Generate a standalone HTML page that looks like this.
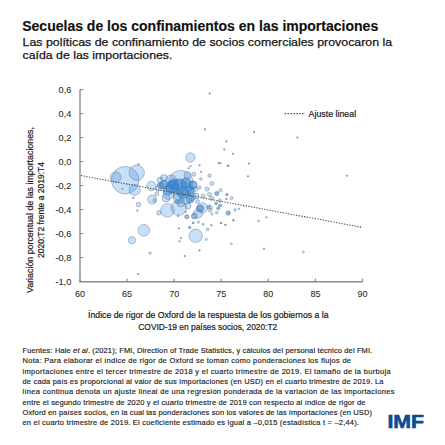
<!DOCTYPE html><html><head><meta charset="utf-8"><style>html,body{margin:0;padding:0;background:#fff;width:445px;height:445px;overflow:hidden}svg{display:block}text{font-family:"Liberation Sans",sans-serif}</style></head><body>
<svg width="445" height="445" viewBox="0 0 445 445">
<rect width="445" height="445" fill="#fff"/>
<text x="22.2" y="31.2" font-size="14.0" font-weight="bold" fill="#111" text-anchor="start" textLength="356" lengthAdjust="spacingAndGlyphs" stroke="#111" stroke-width="0.15">Secuelas de los confinamientos en las importaciones</text>
<text x="22.6" y="46.3" font-size="11.6" font-weight="normal" fill="#151515" text-anchor="start" textLength="369.5" lengthAdjust="spacingAndGlyphs" stroke="#151515" stroke-width="0.25">Las políticas de confinamiento de socios comerciales provocaron la</text>
<text x="22.6" y="59.0" font-size="11.6" font-weight="normal" fill="#151515" text-anchor="start" textLength="149.8" lengthAdjust="spacingAndGlyphs" stroke="#151515" stroke-width="0.25">caída de las importaciones.</text>
<line x1="80.0" y1="89.7" x2="80.0" y2="281.7" stroke="#8c8c8c" stroke-width="1.4"/>
<line x1="79.3" y1="281.7" x2="362.9" y2="281.7" stroke="#8c8c8c" stroke-width="1.4"/>
<line x1="80.0" y1="89.63" x2="83.2" y2="89.63" stroke="#8c8c8c" stroke-width="1.2"/>
<text x="71.3" y="92.93" font-size="9.2" font-weight="normal" fill="#2a2a2a" text-anchor="end" stroke="#2a2a2a" stroke-width="0.08">0,6</text>
<line x1="80.0" y1="113.62" x2="83.2" y2="113.62" stroke="#8c8c8c" stroke-width="1.2"/>
<text x="71.3" y="116.92" font-size="9.2" font-weight="normal" fill="#2a2a2a" text-anchor="end" stroke="#2a2a2a" stroke-width="0.08">0,4</text>
<line x1="80.0" y1="137.61" x2="83.2" y2="137.61" stroke="#8c8c8c" stroke-width="1.2"/>
<text x="71.3" y="140.91000000000003" font-size="9.2" font-weight="normal" fill="#2a2a2a" text-anchor="end" stroke="#2a2a2a" stroke-width="0.08">0,2</text>
<line x1="80.0" y1="161.60" x2="83.2" y2="161.60" stroke="#8c8c8c" stroke-width="1.2"/>
<text x="71.3" y="164.9" font-size="9.2" font-weight="normal" fill="#2a2a2a" text-anchor="end" stroke="#2a2a2a" stroke-width="0.08">0,0</text>
<line x1="80.0" y1="185.59" x2="83.2" y2="185.59" stroke="#8c8c8c" stroke-width="1.2"/>
<text x="71.3" y="188.89000000000001" font-size="9.2" font-weight="normal" fill="#2a2a2a" text-anchor="end" stroke="#2a2a2a" stroke-width="0.08">-0,2</text>
<line x1="80.0" y1="209.58" x2="83.2" y2="209.58" stroke="#8c8c8c" stroke-width="1.2"/>
<text x="71.3" y="212.88" font-size="9.2" font-weight="normal" fill="#2a2a2a" text-anchor="end" stroke="#2a2a2a" stroke-width="0.08">-0,4</text>
<line x1="80.0" y1="233.57" x2="83.2" y2="233.57" stroke="#8c8c8c" stroke-width="1.2"/>
<text x="71.3" y="236.87" font-size="9.2" font-weight="normal" fill="#2a2a2a" text-anchor="end" stroke="#2a2a2a" stroke-width="0.08">-0,6</text>
<line x1="80.0" y1="257.56" x2="83.2" y2="257.56" stroke="#8c8c8c" stroke-width="1.2"/>
<text x="71.3" y="260.86" font-size="9.2" font-weight="normal" fill="#2a2a2a" text-anchor="end" stroke="#2a2a2a" stroke-width="0.08">-0,8</text>
<line x1="80.0" y1="281.55" x2="83.2" y2="281.55" stroke="#8c8c8c" stroke-width="1.2"/>
<text x="71.3" y="284.84999999999997" font-size="9.2" font-weight="normal" fill="#2a2a2a" text-anchor="end" stroke="#2a2a2a" stroke-width="0.08">-1,0</text>
<line x1="80.00" y1="281.7" x2="80.00" y2="278.7" stroke="#8c8c8c" stroke-width="1.2"/>
<text x="80.0" y="297.0" font-size="9.0" font-weight="normal" fill="#2a2a2a" text-anchor="middle" stroke="#2a2a2a" stroke-width="0.08">60</text>
<line x1="127.08" y1="281.7" x2="127.08" y2="278.7" stroke="#8c8c8c" stroke-width="1.2"/>
<text x="127.08333333333334" y="297.0" font-size="9.0" font-weight="normal" fill="#2a2a2a" text-anchor="middle" stroke="#2a2a2a" stroke-width="0.08">65</text>
<line x1="174.17" y1="281.7" x2="174.17" y2="278.7" stroke="#8c8c8c" stroke-width="1.2"/>
<text x="174.16666666666669" y="297.0" font-size="9.0" font-weight="normal" fill="#2a2a2a" text-anchor="middle" stroke="#2a2a2a" stroke-width="0.08">70</text>
<line x1="221.25" y1="281.7" x2="221.25" y2="278.7" stroke="#8c8c8c" stroke-width="1.2"/>
<text x="221.25" y="297.0" font-size="9.0" font-weight="normal" fill="#2a2a2a" text-anchor="middle" stroke="#2a2a2a" stroke-width="0.08">75</text>
<line x1="268.33" y1="281.7" x2="268.33" y2="278.7" stroke="#8c8c8c" stroke-width="1.2"/>
<text x="268.33333333333337" y="297.0" font-size="9.0" font-weight="normal" fill="#2a2a2a" text-anchor="middle" stroke="#2a2a2a" stroke-width="0.08">80</text>
<line x1="315.42" y1="281.7" x2="315.42" y2="278.7" stroke="#8c8c8c" stroke-width="1.2"/>
<text x="315.41666666666663" y="297.0" font-size="9.0" font-weight="normal" fill="#2a2a2a" text-anchor="middle" stroke="#2a2a2a" stroke-width="0.08">85</text>
<line x1="362.50" y1="281.7" x2="362.50" y2="278.7" stroke="#8c8c8c" stroke-width="1.2"/>
<text x="362.5" y="297.0" font-size="9.0" font-weight="normal" fill="#2a2a2a" text-anchor="middle" stroke="#2a2a2a" stroke-width="0.08">90</text>
<text x="208.3" y="317.5" font-size="8.6" font-weight="normal" fill="#1a1a1a" text-anchor="middle" textLength="240.5" lengthAdjust="spacingAndGlyphs" stroke="#1a1a1a" stroke-width="0.2">Índice de rigor de Oxford de la respuesta de los gobiernos a la</text>
<text x="207.8" y="329.8" font-size="8.6" font-weight="normal" fill="#1a1a1a" text-anchor="middle" textLength="139.0" lengthAdjust="spacingAndGlyphs" stroke="#1a1a1a" stroke-width="0.2">COVID-19 en países socios, 2020:T2</text>
<g transform="translate(33.3,210) rotate(-90)">
<text x="0" y="0" font-size="8.7" font-weight="normal" fill="#1a1a1a" text-anchor="middle" textLength="166" lengthAdjust="spacingAndGlyphs" stroke="#1a1a1a" stroke-width="0.2">Variación porcentual de las importaciones,</text>
<text x="0" y="10.4" font-size="8.7" font-weight="normal" fill="#1a1a1a" text-anchor="middle" textLength="96" lengthAdjust="spacingAndGlyphs" stroke="#1a1a1a" stroke-width="0.2">2020:T2 frente a 2019:T4</text>
</g>
<circle cx="125.2" cy="180.2" r="13.8" fill="rgba(70,150,230,0.3)" stroke="rgba(95,120,145,0.6)" stroke-width="0.75"/>
<circle cx="115.7" cy="177.1" r="5.3" fill="rgba(70,150,230,0.3)" stroke="rgba(95,120,145,0.6)" stroke-width="0.75"/>
<circle cx="136.7" cy="172.7" r="7.7" fill="rgba(70,150,230,0.3)" stroke="rgba(95,120,145,0.6)" stroke-width="0.75"/>
<circle cx="134.7" cy="189.9" r="5.5" fill="rgba(70,150,230,0.3)" stroke="rgba(95,120,145,0.6)" stroke-width="0.75"/>
<circle cx="138.5" cy="204.6" r="2.29" fill="rgba(70,150,230,0.3)" stroke="rgba(95,120,145,0.6)" stroke-width="0.75"/>
<circle cx="131.9" cy="240.2" r="3.6" fill="rgba(70,150,230,0.3)" stroke="rgba(95,120,145,0.6)" stroke-width="0.75"/>
<circle cx="143.8" cy="230.3" r="5.8" fill="rgba(70,150,230,0.3)" stroke="rgba(95,120,145,0.6)" stroke-width="0.75"/>
<circle cx="154.5" cy="200.4" r="1.7" fill="rgba(70,150,230,0.3)" stroke="rgba(95,120,145,0.6)" stroke-width="0.75"/>
<circle cx="167.5" cy="210.3" r="6.8" fill="rgba(70,150,230,0.3)" stroke="rgba(95,120,145,0.6)" stroke-width="0.75"/>
<circle cx="178.8" cy="207.8" r="7.6" fill="rgba(70,150,230,0.3)" stroke="rgba(95,120,145,0.6)" stroke-width="0.75"/>
<circle cx="159.0" cy="212.8" r="2.29" fill="rgba(70,150,230,0.3)" stroke="rgba(95,120,145,0.6)" stroke-width="0.75"/>
<circle cx="195.7" cy="235.8" r="6.7" fill="rgba(70,150,230,0.3)" stroke="rgba(95,120,145,0.6)" stroke-width="0.75"/>
<circle cx="189.6" cy="227.4" r="1.1" fill="rgba(70,150,230,0.3)" stroke="rgba(95,120,145,0.6)" stroke-width="0.75"/>
<circle cx="180.8" cy="237.9" r="0.94" fill="rgba(70,150,230,0.3)" stroke="rgba(95,120,145,0.6)" stroke-width="0.75"/>
<circle cx="150.2" cy="253.2" r="1.1" fill="rgba(70,150,230,0.3)" stroke="rgba(95,120,145,0.6)" stroke-width="0.75"/>
<circle cx="190.4" cy="157.5" r="4.7" fill="rgba(70,150,230,0.3)" stroke="rgba(95,120,145,0.6)" stroke-width="0.75"/>
<circle cx="180.8" cy="182.8" r="12.4" fill="rgba(70,150,230,0.3)" stroke="rgba(95,120,145,0.6)" stroke-width="0.75"/>
<circle cx="151.3" cy="186.0" r="4.7" fill="rgba(70,150,230,0.3)" stroke="rgba(95,120,145,0.6)" stroke-width="0.75"/>
<circle cx="152.1" cy="199.5" r="4.5" fill="rgba(70,150,230,0.3)" stroke="rgba(95,120,145,0.6)" stroke-width="0.75"/>
<circle cx="187.5" cy="175.0" r="3.5" fill="rgba(70,150,230,0.3)" stroke="rgba(95,120,145,0.6)" stroke-width="0.75"/>
<circle cx="163.9" cy="178.0" r="3.5" fill="rgba(70,150,230,0.3)" stroke="rgba(95,120,145,0.6)" stroke-width="0.75"/>
<circle cx="163.9" cy="184.6" r="4.2" fill="rgba(45,130,215,0.55)" stroke="rgba(60,110,160,0.7)" stroke-width="0.8"/>
<circle cx="171.0" cy="180.5" r="5.5" fill="rgba(70,150,230,0.3)" stroke="rgba(95,120,145,0.6)" stroke-width="0.75"/>
<circle cx="179.6" cy="186.0" r="7.0" fill="rgba(45,130,215,0.55)" stroke="rgba(60,110,160,0.7)" stroke-width="0.8"/>
<circle cx="168.0" cy="190.0" r="5.0" fill="rgba(45,130,215,0.55)" stroke="rgba(60,110,160,0.7)" stroke-width="0.8"/>
<circle cx="183.0" cy="192.5" r="6.0" fill="rgba(45,130,215,0.55)" stroke="rgba(60,110,160,0.7)" stroke-width="0.8"/>
<circle cx="174.0" cy="184.0" r="5.0" fill="rgba(45,130,215,0.55)" stroke="rgba(60,110,160,0.7)" stroke-width="0.8"/>
<circle cx="190.0" cy="199.0" r="4.0" fill="rgba(45,130,215,0.55)" stroke="rgba(60,110,160,0.7)" stroke-width="0.8"/>
<circle cx="160.5" cy="185.5" r="3.0" fill="rgba(45,130,215,0.55)" stroke="rgba(60,110,160,0.7)" stroke-width="0.8"/>
<circle cx="172.0" cy="187.0" r="6.0" fill="rgba(45,130,215,0.55)" stroke="rgba(60,110,160,0.7)" stroke-width="0.8"/>
<circle cx="186.0" cy="183.0" r="5.0" fill="rgba(45,130,215,0.55)" stroke="rgba(60,110,160,0.7)" stroke-width="0.8"/>
<circle cx="178.0" cy="195.0" r="5.0" fill="rgba(70,150,230,0.3)" stroke="rgba(95,120,145,0.6)" stroke-width="0.75"/>
<circle cx="190.0" cy="190.0" r="4.0" fill="rgba(45,130,215,0.55)" stroke="rgba(60,110,160,0.7)" stroke-width="0.8"/>
<circle cx="166.0" cy="198.0" r="4.0" fill="rgba(70,150,230,0.3)" stroke="rgba(95,120,145,0.6)" stroke-width="0.75"/>
<circle cx="181.0" cy="203.0" r="4.0" fill="rgba(70,150,230,0.3)" stroke="rgba(95,120,145,0.6)" stroke-width="0.75"/>
<circle cx="160.0" cy="180.0" r="3.0" fill="rgba(70,150,230,0.3)" stroke="rgba(95,120,145,0.6)" stroke-width="0.75"/>
<circle cx="196.0" cy="196.0" r="3.0" fill="rgba(70,150,230,0.3)" stroke="rgba(95,120,145,0.6)" stroke-width="0.75"/>
<circle cx="188.0" cy="206.0" r="3.0" fill="rgba(70,150,230,0.3)" stroke="rgba(95,120,145,0.6)" stroke-width="0.75"/>
<circle cx="193.0" cy="185.0" r="4.0" fill="rgba(45,130,215,0.55)" stroke="rgba(60,110,160,0.7)" stroke-width="0.8"/>
<circle cx="192.0" cy="197.0" r="3.5" fill="rgba(70,150,230,0.3)" stroke="rgba(95,120,145,0.6)" stroke-width="0.75"/>
<circle cx="185.1" cy="189.1" r="6.3" fill="rgba(70,150,230,0.3)" stroke="rgba(95,120,145,0.6)" stroke-width="0.75"/>
<circle cx="168.6" cy="193.8" r="5.5" fill="rgba(70,150,230,0.3)" stroke="rgba(95,120,145,0.6)" stroke-width="0.75"/>
<circle cx="178.8" cy="197.8" r="5.5" fill="rgba(70,150,230,0.3)" stroke="rgba(95,120,145,0.6)" stroke-width="0.75"/>
<circle cx="185.9" cy="198.5" r="5.5" fill="rgba(70,150,230,0.3)" stroke="rgba(95,120,145,0.6)" stroke-width="0.75"/>
<circle cx="191.4" cy="192.2" r="3.2" fill="rgba(70,150,230,0.3)" stroke="rgba(95,120,145,0.6)" stroke-width="0.75"/>
<circle cx="195.3" cy="189.1" r="2.38" fill="rgba(70,150,230,0.3)" stroke="rgba(95,120,145,0.6)" stroke-width="0.75"/>
<circle cx="193.8" cy="174.2" r="2.04" fill="rgba(70,150,230,0.3)" stroke="rgba(95,120,145,0.6)" stroke-width="0.75"/>
<circle cx="209.5" cy="175.7" r="1.7" fill="rgba(70,150,230,0.3)" stroke="rgba(95,120,145,0.6)" stroke-width="0.75"/>
<circle cx="211.9" cy="183.6" r="2.04" fill="rgba(70,150,230,0.3)" stroke="rgba(95,120,145,0.6)" stroke-width="0.75"/>
<circle cx="207.1" cy="189.1" r="2.04" fill="rgba(70,150,230,0.3)" stroke="rgba(95,120,145,0.6)" stroke-width="0.75"/>
<circle cx="209.5" cy="194.6" r="2.04" fill="rgba(70,150,230,0.3)" stroke="rgba(95,120,145,0.6)" stroke-width="0.75"/>
<circle cx="199.3" cy="187.5" r="1.7" fill="rgba(70,150,230,0.3)" stroke="rgba(95,120,145,0.6)" stroke-width="0.75"/>
<circle cx="203.2" cy="196.2" r="2.04" fill="rgba(70,150,230,0.3)" stroke="rgba(95,120,145,0.6)" stroke-width="0.75"/>
<circle cx="200.8" cy="178.9" r="1.36" fill="rgba(70,150,230,0.3)" stroke="rgba(95,120,145,0.6)" stroke-width="0.75"/>
<circle cx="207.9" cy="207.2" r="1.36" fill="rgba(70,150,230,0.3)" stroke="rgba(95,120,145,0.6)" stroke-width="0.75"/>
<circle cx="186.7" cy="216.6" r="2.04" fill="rgba(70,150,230,0.3)" stroke="rgba(95,120,145,0.6)" stroke-width="0.75"/>
<circle cx="194.6" cy="215.8" r="3.0" fill="rgba(70,150,230,0.3)" stroke="rgba(95,120,145,0.6)" stroke-width="0.75"/>
<circle cx="177.2" cy="201.7" r="2.04" fill="rgba(70,150,230,0.3)" stroke="rgba(95,120,145,0.6)" stroke-width="0.75"/>
<circle cx="158.4" cy="188.3" r="3.0" fill="rgba(70,150,230,0.3)" stroke="rgba(95,120,145,0.6)" stroke-width="0.75"/>
<circle cx="156.8" cy="193.8" r="2.04" fill="rgba(70,150,230,0.3)" stroke="rgba(95,120,145,0.6)" stroke-width="0.75"/>
<circle cx="216.8" cy="193.5" r="2.04" fill="rgba(45,130,215,0.55)" stroke="rgba(60,110,160,0.7)" stroke-width="0.8"/>
<circle cx="220.5" cy="190.3" r="1.7" fill="rgba(70,150,230,0.3)" stroke="rgba(95,120,145,0.6)" stroke-width="0.75"/>
<circle cx="211.7" cy="198.5" r="2.04" fill="rgba(70,150,230,0.3)" stroke="rgba(95,120,145,0.6)" stroke-width="0.75"/>
<circle cx="219.8" cy="200.6" r="1.7" fill="rgba(70,150,230,0.3)" stroke="rgba(95,120,145,0.6)" stroke-width="0.75"/>
<circle cx="215.8" cy="203.6" r="1.19" fill="rgba(70,150,230,0.3)" stroke="rgba(95,120,145,0.6)" stroke-width="0.75"/>
<circle cx="226.9" cy="194.5" r="1.19" fill="rgba(70,150,230,0.3)" stroke="rgba(95,120,145,0.6)" stroke-width="0.75"/>
<circle cx="231.6" cy="198.0" r="1.53" fill="rgba(70,150,230,0.3)" stroke="rgba(95,120,145,0.6)" stroke-width="0.75"/>
<circle cx="197.6" cy="201.6" r="2.04" fill="rgba(70,150,230,0.3)" stroke="rgba(95,120,145,0.6)" stroke-width="0.75"/>
<circle cx="216.8" cy="212.7" r="1.36" fill="rgba(70,150,230,0.3)" stroke="rgba(95,120,145,0.6)" stroke-width="0.75"/>
<circle cx="218.8" cy="208.7" r="1.19" fill="rgba(70,150,230,0.3)" stroke="rgba(95,120,145,0.6)" stroke-width="0.75"/>
<circle cx="210.7" cy="207.6" r="1.7" fill="rgba(70,150,230,0.3)" stroke="rgba(95,120,145,0.6)" stroke-width="0.75"/>
<circle cx="202.5" cy="207.9" r="5.2" fill="rgba(70,150,230,0.3)" stroke="rgba(95,120,145,0.6)" stroke-width="0.75"/>
<circle cx="200.0" cy="208.5" r="3.6" fill="rgba(45,130,215,0.55)" stroke="rgba(60,110,160,0.7)" stroke-width="0.8"/>
<circle cx="198.0" cy="213.8" r="4.5" fill="rgba(70,150,230,0.3)" stroke="rgba(95,120,145,0.6)" stroke-width="0.75"/>
<circle cx="194.0" cy="216.3" r="2.38" fill="rgba(70,150,230,0.3)" stroke="rgba(95,120,145,0.6)" stroke-width="0.75"/>
<circle cx="187.0" cy="216.9" r="1.7" fill="rgba(70,150,230,0.3)" stroke="rgba(95,120,145,0.6)" stroke-width="0.75"/>
<circle cx="210.3" cy="210.2" r="1.87" fill="rgba(70,150,230,0.3)" stroke="rgba(95,120,145,0.6)" stroke-width="0.75"/>
<circle cx="209.5" cy="205.7" r="1.1" fill="rgba(70,150,230,0.3)" stroke="rgba(95,120,145,0.6)" stroke-width="0.75"/>
<circle cx="212.0" cy="214.1" r="1.1" fill="rgba(70,150,230,0.3)" stroke="rgba(95,120,145,0.6)" stroke-width="0.75"/>
<circle cx="228.2" cy="213.0" r="2.12" fill="rgba(45,130,215,0.55)" stroke="rgba(60,110,160,0.7)" stroke-width="0.8"/>
<circle cx="219.8" cy="205.7" r="1.44" fill="rgba(70,150,230,0.3)" stroke="rgba(95,120,145,0.6)" stroke-width="0.75"/>
<circle cx="217.6" cy="208.3" r="1.1" fill="rgba(70,150,230,0.3)" stroke="rgba(95,120,145,0.6)" stroke-width="0.75"/>
<circle cx="216.5" cy="202.9" r="1.1" fill="rgba(70,150,230,0.3)" stroke="rgba(95,120,145,0.6)" stroke-width="0.75"/>
<circle cx="193.4" cy="222.5" r="0.85" fill="rgba(70,150,230,0.3)" stroke="rgba(95,120,145,0.6)" stroke-width="0.75"/>
<circle cx="198.5" cy="222.0" r="1.1" fill="rgba(70,150,230,0.3)" stroke="rgba(95,120,145,0.6)" stroke-width="0.75"/>
<circle cx="203.3" cy="224.4" r="1.1" fill="rgba(70,150,230,0.3)" stroke="rgba(95,120,145,0.6)" stroke-width="0.75"/>
<circle cx="211.4" cy="225.1" r="1.1" fill="rgba(70,150,230,0.3)" stroke="rgba(95,120,145,0.6)" stroke-width="0.75"/>
<circle cx="189.8" cy="227.8" r="0.94" fill="rgba(70,150,230,0.3)" stroke="rgba(95,120,145,0.6)" stroke-width="0.75"/>
<circle cx="207.5" cy="229.3" r="1.44" fill="rgba(70,150,230,0.3)" stroke="rgba(95,120,145,0.6)" stroke-width="0.75"/>
<circle cx="206.3" cy="239.4" r="1.1" fill="rgba(70,150,230,0.3)" stroke="rgba(95,120,145,0.6)" stroke-width="0.75"/>
<circle cx="226.6" cy="194.6" r="0.85" fill="rgba(70,150,230,0.3)" stroke="rgba(95,120,145,0.6)" stroke-width="0.75"/>
<circle cx="220.5" cy="205.6" r="1.27" fill="rgba(70,150,230,0.3)" stroke="rgba(95,120,145,0.6)" stroke-width="0.75"/>
<circle cx="235.0" cy="209.9" r="1.27" fill="rgba(70,150,230,0.3)" stroke="rgba(95,120,145,0.6)" stroke-width="0.75"/>
<circle cx="238.9" cy="208.8" r="0.85" fill="rgba(70,150,230,0.3)" stroke="rgba(95,120,145,0.6)" stroke-width="0.75"/>
<circle cx="258.5" cy="220.9" r="0.94" fill="rgba(70,150,230,0.3)" stroke="rgba(95,120,145,0.6)" stroke-width="0.75"/>
<circle cx="231.5" cy="243.7" r="0.94" fill="rgba(70,150,230,0.3)" stroke="rgba(95,120,145,0.6)" stroke-width="0.75"/>
<circle cx="303.4" cy="252.0" r="1.02" fill="rgba(70,150,230,0.3)" stroke="rgba(95,120,145,0.6)" stroke-width="0.75"/>
<circle cx="138.5" cy="164.3" r="1.05" fill="#8e979f"/>
<circle cx="122.4" cy="188.7" r="1.05" fill="#8e979f"/>
<circle cx="133.3" cy="197.8" r="1.05" fill="#8e979f"/>
<circle cx="137.3" cy="210.6" r="1.05" fill="#8e979f"/>
<circle cx="138.2" cy="274" r="1.05" fill="#8e979f"/>
<circle cx="178.8" cy="228.4" r="1.05" fill="#8e979f"/>
<circle cx="179.5" cy="241.2" r="1.05" fill="#8e979f"/>
<circle cx="178.1" cy="215.9" r="1.05" fill="#8e979f"/>
<circle cx="185.6" cy="211.9" r="1.05" fill="#8e979f"/>
<circle cx="193" cy="223.3" r="1.05" fill="#8e979f"/>
<circle cx="221" cy="223.1" r="1.05" fill="#8e979f"/>
<circle cx="225.4" cy="224.8" r="1.05" fill="#8e979f"/>
<circle cx="233.3" cy="220.3" r="1.05" fill="#8e979f"/>
<circle cx="226.3" cy="198.9" r="1.05" fill="#8e979f"/>
<circle cx="233.4" cy="220.4" r="1.05" fill="#8e979f"/>
<circle cx="225.5" cy="225.1" r="1.05" fill="#8e979f"/>
<circle cx="221.3" cy="222.8" r="1.05" fill="#8e979f"/>
<circle cx="266.4" cy="217.3" r="1.05" fill="#8e979f"/>
<circle cx="264" cy="248.7" r="1.05" fill="#8e979f"/>
<circle cx="254.1" cy="132.1" r="1.05" fill="#8e979f"/>
<circle cx="226.3" cy="141.4" r="1.05" fill="#8e979f"/>
<circle cx="224.2" cy="149.4" r="1.05" fill="#8e979f"/>
<circle cx="232.9" cy="153.8" r="1.05" fill="#8e979f"/>
<circle cx="220.5" cy="163.3" r="1.05" fill="#8e979f"/>
<circle cx="227.9" cy="165.9" r="1.05" fill="#8e979f"/>
<circle cx="248.8" cy="163.6" r="1.05" fill="#8e979f"/>
<circle cx="248" cy="176.3" r="1.05" fill="#8e979f"/>
<circle cx="297.3" cy="137.6" r="1.05" fill="#8e979f"/>
<circle cx="346.9" cy="175.8" r="1.05" fill="#8e979f"/>
<circle cx="209.7" cy="93.4" r="1.05" fill="#8e979f"/>
<circle cx="205" cy="129.2" r="1.05" fill="#8e979f"/>
<circle cx="184.7" cy="256.1" r="1.05" fill="#8e979f"/>
<circle cx="199.5" cy="250.4" r="1.05" fill="#8e979f"/>
<circle cx="199.6" cy="165.2" r="1.05" fill="#8e979f"/>
<circle cx="190.5" cy="166.2" r="1.05" fill="#8e979f"/>
<circle cx="218.8" cy="163.1" r="1.05" fill="#8e979f"/>
<circle cx="228.5" cy="165.8" r="1.05" fill="#8e979f"/>
<circle cx="201.2" cy="171.8" r="1.05" fill="#8e979f"/>
<circle cx="188.5" cy="168.2" r="1.05" fill="#8e979f"/>
<line x1="81.0" y1="175.58" x2="361.5" y2="227.20" stroke="#4a4a4a" stroke-width="1.05" stroke-dasharray="1.3 1.4"/>
<line x1="284.6" y1="113.6" x2="305" y2="113.6" stroke="#505050" stroke-width="1.1" stroke-dasharray="1.5 1.4"/>
<text x="308.6" y="117.0" font-size="8.8" font-weight="normal" fill="#1a1a1a" text-anchor="start" textLength="47.5" lengthAdjust="spacingAndGlyphs" stroke="#1a1a1a" stroke-width="0.2">Ajuste lineal</text>
<text x="22.5" y="353.2" font-size="7.5" font-weight="normal" fill="#1e1e1e" text-anchor="start" textLength="349.8" lengthAdjust="spacing" stroke="#1e1e1e" stroke-width="0.16">Fuentes: Hale <tspan font-style="italic">et al</tspan>. (2021); FMI, Direction of Trade Statistics, y cálculos del personal técnico del FMI.</text>
<text x="22.5" y="363.49" font-size="7.5" font-weight="normal" fill="#1e1e1e" text-anchor="start" textLength="328.5" lengthAdjust="spacing" stroke="#1e1e1e" stroke-width="0.16">Nota: Para elaborar el índice de rigor de Oxford se toman como ponderaciones  los flujos de</text>
<text x="22.5" y="373.78" font-size="7.5" font-weight="normal" fill="#1e1e1e" text-anchor="start" textLength="368.1" lengthAdjust="spacing" stroke="#1e1e1e" stroke-width="0.16">importaciones entre el tercer trimestre de 2018 y el cuarto trimestre de 2019. El tamaño de la burbuja</text>
<text x="22.5" y="384.07" font-size="7.5" font-weight="normal" fill="#1e1e1e" text-anchor="start" textLength="361.0" lengthAdjust="spacing" stroke="#1e1e1e" stroke-width="0.16">de cada país es proporcional al valor de sus importaciones (en USD) en el cuarto trimestre de 2019. La</text>
<text x="22.5" y="394.36" font-size="7.5" font-weight="normal" fill="#1e1e1e" text-anchor="start" textLength="372.0" lengthAdjust="spacing" stroke="#1e1e1e" stroke-width="0.16">línea continua denota un ajuste lineal de una regresión ponderada de la variación de las importaciones</text>
<text x="22.5" y="404.65" font-size="7.5" font-weight="normal" fill="#1e1e1e" text-anchor="start" textLength="343.0" lengthAdjust="spacing" stroke="#1e1e1e" stroke-width="0.16">entre el segundo trimestre de 2020 y el cuarto trimestre de 2019 con respecto al índice de rigor de</text>
<text x="22.5" y="414.94" font-size="7.5" font-weight="normal" fill="#1e1e1e" text-anchor="start" textLength="349.5" lengthAdjust="spacing" stroke="#1e1e1e" stroke-width="0.16">Oxford en países socios, en la cual las ponderaciones  son los valores de las importaciones (en USD)</text>
<text x="22.5" y="425.23" font-size="7.5" font-weight="normal" fill="#1e1e1e" text-anchor="start" textLength="336.5" lengthAdjust="spacing" stroke="#1e1e1e" stroke-width="0.16">en el cuarto trimestre de 2019. El coeficiente  estimado es igual a –0,015 (estadística t = –2,44).</text>
<text x="387.4" y="427.6" font-size="18.8" font-weight="bold" fill="#0b4a94" text-anchor="start" textLength="36.6" lengthAdjust="spacingAndGlyphs" stroke="#0b4a94" stroke-width="0.6">IMF</text>
</svg></body></html>
